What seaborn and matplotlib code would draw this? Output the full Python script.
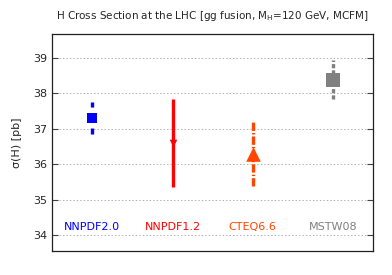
import matplotlib
matplotlib.use("Agg")
import matplotlib.pyplot as plt
import seaborn as sns
import pandas as pd

# PDF sets and their Higgs cross sections [pb]
pdf_sets = ["NNPDF2.0", "NNPDF1.2", "CTEQ6.6", "MSTW08"]
central = [37.29, 36.61, 36.30, 38.37]
upper = [37.75, 37.85, 37.24, 38.93]
lower = [36.86, 35.36, 35.38, 37.83]
colors = ["#0000ff", "#ff0000", "#ff4500", "#808080"]
markers = ["s", "v", "^", "s"]
linestyles = [(0, (4.3, 5.4)), "-", (0, (6, 1.5, 1, 1.5)), (0, (3, 1.5))]

df = pd.DataFrame({"pdf": pdf_sets, "xsec": central, "hi": upper, "lo": lower})
df["pos"] = [0.5, 1.5, 2.5, 3.5]

sns.set_style("white")
plt.rcParams["font.family"] = ["DejaVu Sans"]
plt.rcParams["lines.scale_dashes"] = False

fig, ax = plt.subplots(figsize=(3.92, 2.75), dpi=100)
fig.subplots_adjust(left=0.133, right=0.952, top=0.876, bottom=0.087)

for i, row in df.iterrows():
    ax.vlines(row["pos"], row["lo"], row["hi"], color=colors[i],
              linestyles=[linestyles[i]], linewidth=2.4, zorder=3)
    size = {0: 55, 1: 30, 2: 110, 3: 90}[i]
    sns.scatterplot(x=[row["pos"]], y=[row["xsec"]], ax=ax, color=colors[i],
                    marker=markers[i], s=size, edgecolor=colors[i], linewidth=0, zorder=4)
    ax.text(row["pos"], 34.22, row["pdf"], color=colors[i], ha="center",
            va="center", fontsize=8)

ax.set_xlim(0, 4)
ax.set_ylim(33.55, 39.67)
ax.set_xticks([])
ax.set_yticks([34, 35, 36, 37, 38, 39])
ax.yaxis.grid(True, linestyle=(0, (1, 1.5)), color="#b0b0b0", linewidth=0.7)
ax.tick_params(axis="y", which="both", left=True, right=True, direction="in",
               length=4, labelsize=8, color="#404040")
for s in ax.spines.values():
    s.set_color("#202020")
    s.set_linewidth(0.9)
ax.set_ylabel("σ(H) [pb]", fontsize=8, labelpad=8)
ax.set_title("H Cross Section at the LHC [gg fusion, M$_\\mathregular{H}$=120 GeV, MCFM]",
             fontsize=7.5, pad=11)

fig.savefig("out.png", dpi=100)
